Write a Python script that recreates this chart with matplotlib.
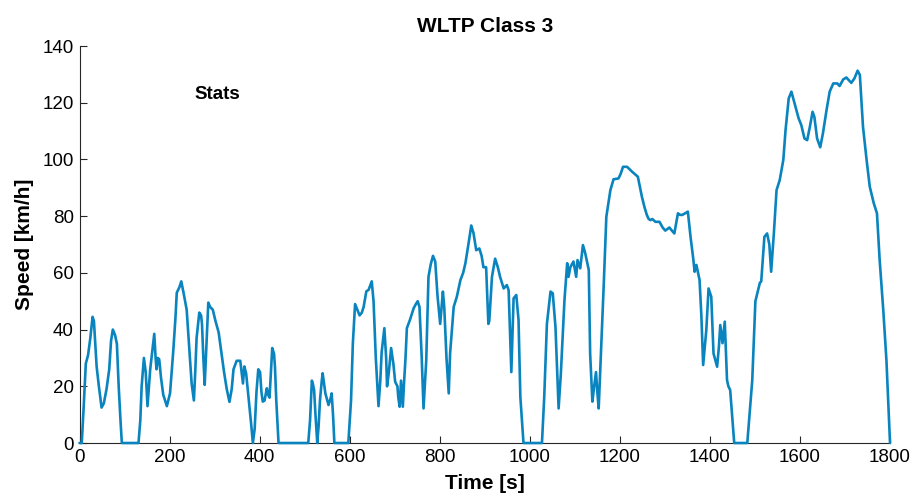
import matplotlib.pyplot as plt

plt.rcParams['font.family'] = ['Liberation Sans', 'DejaVu Sans']

# WLTP class 3 speed trace, breakpoints (time in s, speed in km/h)
time_s = [
    0, 5, 9, 14, 19, 24, 29, 32, 35, 38, 43, 49, 54, 60, 66, 70, 74, 79, 83, 87,
    91, 94, 131, 135, 138, 143, 147, 151, 157, 162, 166, 169, 171, 174, 177, 181,
    186, 194, 201, 208, 213, 216, 222, 226, 231, 238, 243, 249, 254, 257, 260,
    266, 270, 272, 275, 278, 282, 286, 290, 296, 302, 309, 315, 321, 327, 333,
    338, 342, 349, 357, 360, 363, 366, 370, 376, 381, 385, 389, 393, 397, 401,
    404, 407, 411, 416, 419, 422, 425, 428, 432, 434, 437, 442, 508, 512, 516,
    518, 521, 524, 528, 531, 534, 538, 540, 543, 546, 553, 558, 560, 563, 566,
    597, 603, 607, 612, 617, 622, 627, 631, 637, 642, 649, 653, 658, 664, 668,
    671, 677, 681, 683, 687, 692, 697, 701, 706, 708, 711, 714, 718, 721, 724,
    727, 734, 742, 747, 751, 755, 760, 764, 770, 775, 780, 785, 790, 795, 801,
    807, 810, 815, 820, 823, 831, 838, 846, 852, 857, 864, 870, 875, 881, 888,
    893, 897, 903, 908, 910, 916, 923, 929, 934, 942, 949, 953, 956, 959, 964,
    970, 975, 979, 986, 1027, 1032, 1038, 1046, 1051, 1057, 1064, 1069, 1077,
    1083, 1086, 1090, 1097, 1103, 1106, 1112, 1118, 1123, 1131, 1134, 1139,
    1143, 1147, 1150, 1153, 1158, 1164, 1170, 1179, 1186, 1197, 1202, 1207,
    1216, 1227, 1240, 1249, 1255, 1260, 1264, 1268, 1272, 1279, 1288, 1295,
    1301, 1306, 1310, 1315, 1321, 1329, 1333, 1338, 1345, 1351, 1357, 1363,
    1366, 1370, 1377, 1381, 1385, 1392, 1397, 1403, 1408, 1416, 1420, 1423,
    1428, 1433, 1438, 1441, 1445, 1454, 1483, 1494, 1501, 1511, 1514, 1521,
    1527, 1532, 1536, 1542, 1548, 1555, 1563, 1568, 1575, 1581, 1588, 1597,
    1603, 1610, 1616, 1622, 1628, 1632, 1638, 1645, 1651, 1659, 1666, 1674,
    1683, 1688, 1696, 1703, 1714, 1721, 1728, 1733, 1740, 1748, 1755, 1764,
    1771, 1777, 1785, 1792, 1800,
]
speed_kmh = [
    0, 0, 12, 28, 31, 37, 44.5, 43, 35, 27, 20, 12.5, 14, 19, 26, 36, 40, 38, 35, 20,
    8, 0, 0, 8, 20, 30, 25, 13, 26, 33, 38.5, 30, 26, 30, 29.5, 23,
    17, 13, 17.5, 32, 44, 53, 55, 57, 53, 47, 35, 21, 15, 25, 37,
    46, 45, 42, 30, 20.5, 35, 49.5, 48, 47, 43, 39, 32, 25, 19, 14.5,
    19, 26, 29, 29, 25, 21, 27, 24.6, 15, 7, 0, 5, 18, 26, 25,
    18, 14.6, 15, 19.3, 17, 16, 25, 33.5, 31.5, 27, 15, 0, 0, 8, 22,
    21, 18.7, 10, 0, 6, 15, 22, 24.6, 21, 17.5, 13.4, 16, 17.5, 10, 0,
    0, 15, 35, 49, 47, 45, 46, 48, 53.5, 54, 57, 50, 30, 13, 22,
    32, 40.5, 30, 20, 25, 33.5, 28, 21.6, 20, 16, 12.8, 22, 12.8, 22, 30,
    40.5, 43.5, 47.5, 49, 50, 48, 30, 12.2, 29, 58.6, 63, 66, 64, 52, 42,
    53.4, 48, 30, 17.5, 31.6, 48, 51.6, 57.5, 60, 63.4, 70.4, 76.7, 74, 68, 68.6,
    66, 62, 62, 42, 43, 58.6, 65, 62, 58.6, 54.5, 55.7, 53.9, 40, 25, 51,
    52.2, 43.4, 16.3, 0, 0, 16, 42, 53.4, 52.8, 41, 12.2, 24.6, 50.4,
    63.4, 58.6, 62, 64, 58.6, 64.5, 61.6, 69.8, 67, 61, 31.6, 14.6,
    20, 25, 18, 12.2, 31.6, 55, 79.8, 89.2, 93, 93.3, 95, 97.4,
    97.4, 95.7, 93.9, 86.8, 83, 80.4, 79, 78.6, 79, 78, 78, 76,
    74.9, 75.5, 76, 75, 73.9, 81, 80.5, 80.4, 81, 81.6, 72.7, 65,
    60.4, 62.8, 57.5, 45, 27.5, 39.8, 54.5, 51.6, 31.6, 26.9, 34, 41.6,
    35.2, 42.8, 22.2, 20, 18.7, 0, 0, 22, 50, 56.5, 57, 72.7,
    73.9, 70, 60.4, 73.9, 89.2, 92.7, 99.8, 110.4, 121.5, 123.9, 119.8, 114.5,
    112.1, 107.4, 106.8, 111.5, 116.8, 115, 107.4, 104.3, 109.2, 117.4, 123.9, 126.8,
    126.8, 125.9, 128.2, 128.9, 127, 128.6, 131.3, 129.8, 111.5, 99.8, 90.4, 84.5,
    81, 64.5, 46.9, 29.3, 0,
]

x_ticks = list(range(0, 1801, 200))
y_ticks = list(range(0, 141, 20))

fig = plt.figure(figsize=(9.15, 4.99), dpi=100)
ax = fig.add_axes([0.0869, 0.1122, 0.8858, 0.7956])

ax.plot(time_s, speed_kmh, color='#0a84be', linewidth=1.9, clip_on=False, zorder=3,
        solid_joinstyle='round', solid_capstyle='round')

ax.set_xlim(0, 1800)
ax.set_ylim(0, 140)
ax.set_xticks(x_ticks)
ax.set_yticks(y_ticks)

for side in ['top', 'right']:
    ax.spines[side].set_visible(False)
for side in ['left', 'bottom']:
    ax.spines[side].set_color('#262626')
    ax.spines[side].set_linewidth(0.8)

ax.tick_params(direction='in', length=5, width=0.8, colors='#262626',
               labelsize=13.5, labelcolor='black', pad=4)

ax.set_title('WLTP Class 3', fontsize=15, fontweight='bold', pad=10)
ax.set_xlabel('Time [s]', fontsize=15, fontweight='bold', labelpad=6)
ax.set_ylabel('Speed [km/h]', fontsize=15, fontweight='bold', labelpad=6)

ax.text(307, 123, 'Stats', fontsize=13.5, fontweight='bold', ha='center', va='center')

fig.savefig('out.png', dpi=100)
